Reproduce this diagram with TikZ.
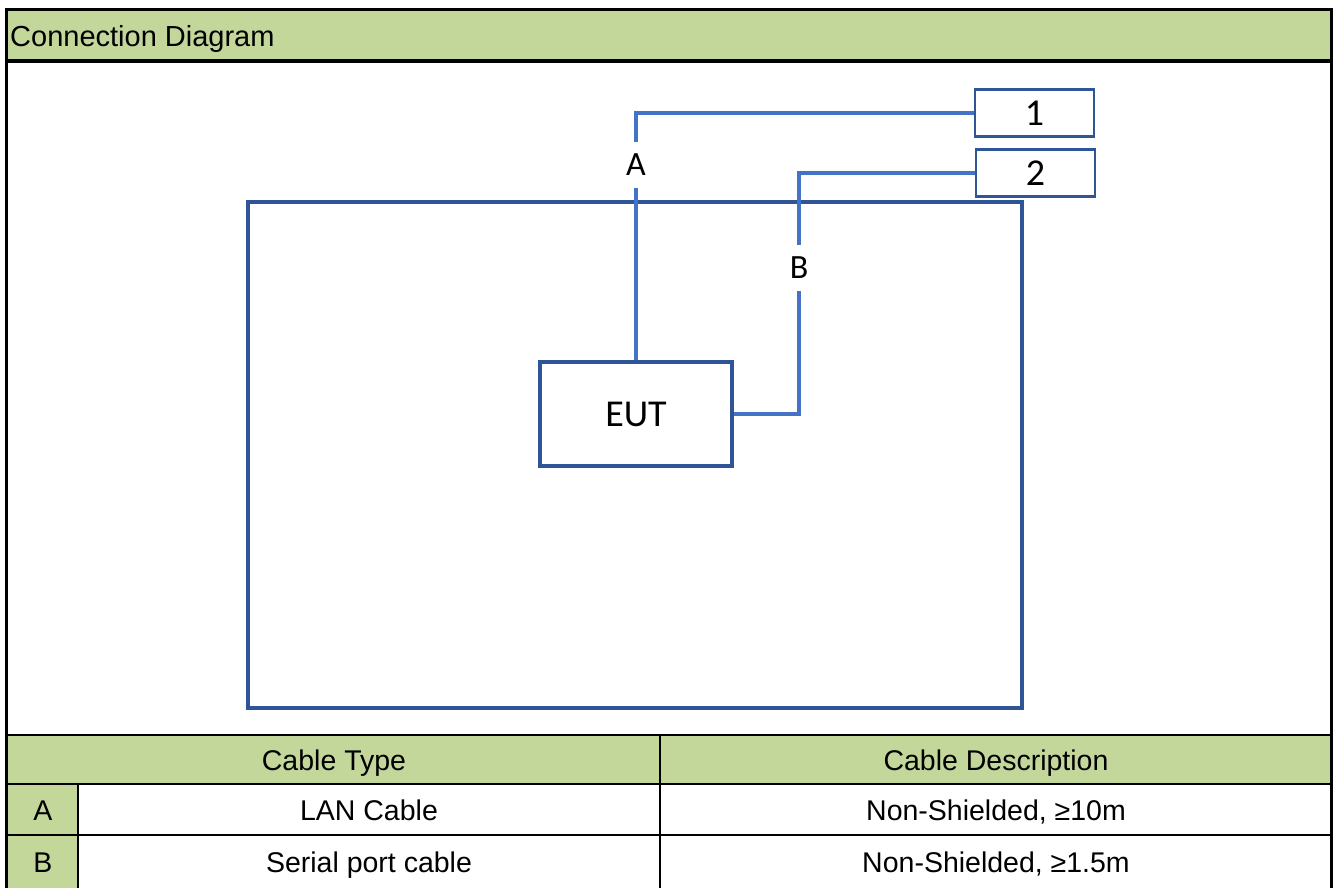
\documentclass[tikz,border=0pt]{standalone}
\usepackage{fontspec}
\setmainfont{Liberation Sans}
\newfontfamily\calibrifont{Carlito}
\definecolor{hdrgreen}{HTML}{C4D79B}
\definecolor{cableblue}{HTML}{4472C4}
\definecolor{boxblue}{HTML}{2F5597}
\tikzset{
  frameline/.style={line width=3.5pt, black},
  gridline/.style={line width=2.2pt, black},
  cable/.style={line width=3.2pt, cableblue},
  portbox/.style={draw=boxblue, line width=2.2pt, fill=white, minimum width=119pt, minimum height=47pt, inner sep=0pt, font=\calibrifont\fontsize{38}{42}\selectfont},
  eutbox/.style={draw=boxblue, line width=3.2pt, minimum width=192pt, minimum height=104pt, inner sep=0pt, font=\calibrifont\fontsize{38}{42}\selectfont},
  roombox/.style={draw=boxblue, line width=4.2pt, minimum width=774pt, minimum height=506pt, inner sep=0pt},
  cablelabel/.style={inner sep=0pt, minimum height=46pt, minimum width=30pt, font=\calibrifont\fontsize{34}{38}\selectfont},
  tabtext/.style={inner sep=0pt, anchor=base, font=\fontsize{28.5}{32}\selectfont},
}
\begin{document}
\begin{tikzpicture}[x=1pt,y=-1pt]
\useasboundingbox (0,0) rectangle (1335,888);
% fills
\fill[hdrgreen] (6.5,9.5) rectangle (1331.5,61);
\fill[hdrgreen] (6.5,735) rectangle (1331.5,784);
\fill[hdrgreen] (6.5,784) rectangle (78,890);
% table grid
\draw[gridline] (6.5,735) -- (1331.5,735);
\draw[gridline] (6.5,784) -- (1331.5,784);
\draw[gridline] (6.5,835) -- (1331.5,835);
\draw[gridline] (660,735) -- (660,890);
\draw[gridline] (78,784) -- (78,890);
% outer frame
\draw[frameline] (6.5,890) -- (6.5,9.5) -- (1331.5,9.5) -- (1331.5,890);
\draw[frameline] (6.5,61) -- (1331.5,61);
% header text
\node[tabtext, anchor=base west] (title) at (10,47) {\fontsize{29}{32}\selectfont Connection Diagram};
% diagram
\node[roombox] (room) at (635,455) {};
\node[eutbox] (eut) at (636,414) {EUT};
\node[portbox] (p1) at (1034.5,113) {1};
\node[portbox] (p2) at (1035.5,173) {2};
\node[cablelabel] (la) at (636,165) {A};
\node[cablelabel] (lb) at (799,268) {B};
\draw[cable] (eut.north) -- (la.south);
\draw[cable] (la.north) |- (p1.west);
\draw[cable] (eut.east) -| (lb.south);
\draw[cable] (lb.north) |- (p2.west);
% table text
\node[tabtext] (th1) at (334,770) {Cable Type};
\node[tabtext] (th2) at (996,770) {Cable Description};
\node[tabtext] (ra) at (43,820) {A};
\node[tabtext] (rat) at (369,820) {LAN Cable};
\node[tabtext] (rad) at (996,820) {Non-Shielded, ≥10m};
\node[tabtext] (rb) at (43,872) {B};
\node[tabtext] (rbt) at (369,872) {Serial port cable};
\node[tabtext] (rbd) at (996,872) {Non-Shielded, ≥1.5m};
\end{tikzpicture}
\end{document}
